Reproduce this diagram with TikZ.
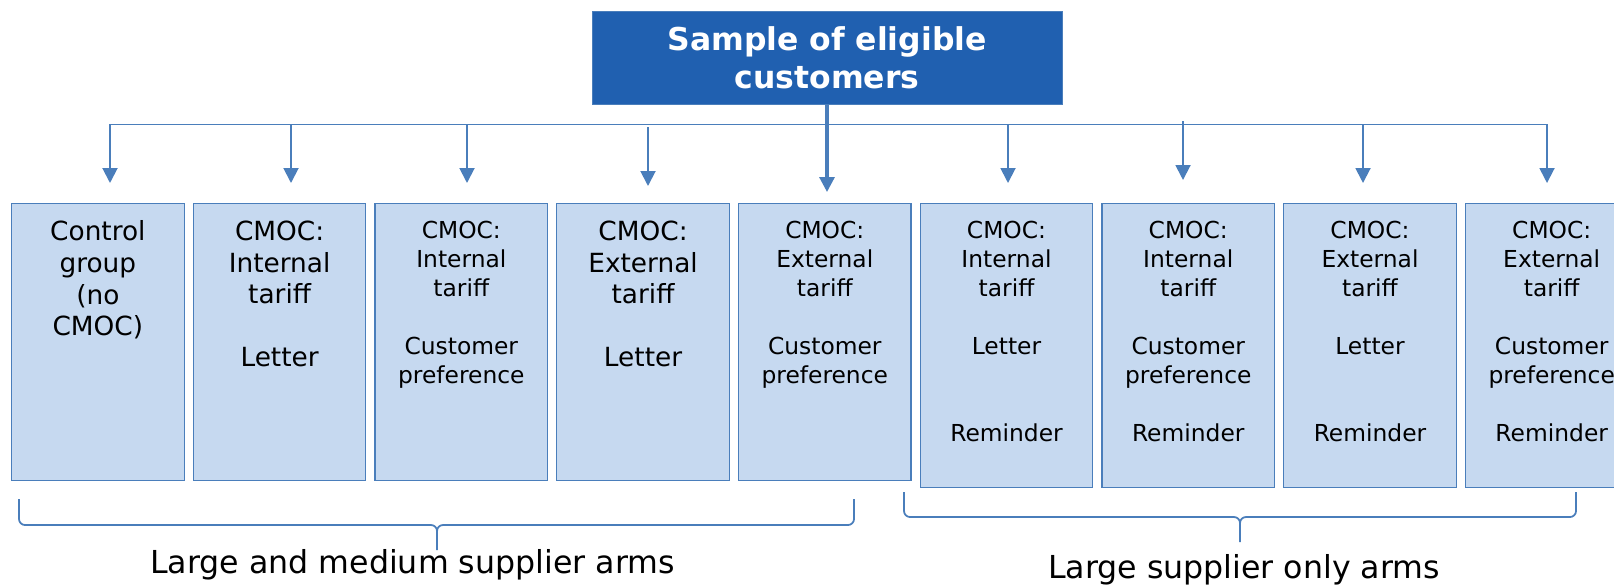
\documentclass[tikz,border=0pt]{standalone}
\usepackage{fontspec}
\setmainfont{DejaVu Sans}
\usetikzlibrary{arrows.meta,positioning}

\definecolor{headblue}{RGB}{32,96,176}
\definecolor{armfill}{RGB}{198,217,240}
\definecolor{armline}{RGB}{74,126,187}

\begin{document}
\begin{tikzpicture}[
    node distance=0.16cm,
    header/.style={draw=armline, fill=headblue, text=white,
      minimum width=9.4cm, minimum height=1.86cm, align=center,
      font=\bfseries\fontsize{17.9}{21.4}\selectfont},
    arm/.style={draw=armline, line width=0.7pt, fill=armfill,
      minimum width=3.45cm, minimum height=5.54cm, inner sep=0pt},
    tallarm/.style={arm, minimum height=5.68cm},
    armtext/.style={anchor=north, inner sep=0pt, yshift=-0.35cm, align=center,
      font=\fontsize{15}{18}\selectfont},
    smalltext/.style={armtext, font=\fontsize{13.3}{16.5}\selectfont},
    arrow/.style={-{Triangle[length=0.3cm,width=0.3cm]}, line width=1.1pt, draw=armline},
    bus/.style={line width=0.75pt, draw=armline},
    armbrace/.style={line width=1pt, draw=armline, rounded corners=0.12cm},
    armlabel/.style={anchor=base, font=\fontsize{18}{21.6}\selectfont}
  ]
  \useasboundingbox (0,0) rectangle (32.28,-11.72);

  \node[header] (sample) at (16.54,-1.15) {Sample of eligible\\customers};

  % trial arms
  \node[arm, anchor=north west] (b1) at (0.22,-4.06) {};
  \node[arm, right=of b1] (b2) {};
  \node[arm, right=of b2] (b3) {};
  \node[arm, right=of b3] (b4) {};
  \node[arm, right=of b4] (b5) {};
  \node[tallarm, anchor=north west] (b6) at ([xshift=0.16cm]b5.north east) {};
  \node[tallarm, right=of b6] (b7) {};
  \node[tallarm, right=of b7] (b8) {};
  \node[tallarm, right=of b8] (b9) {};

  \node[armtext] (t1) at (b1.north) {Control\\group\\(no\\CMOC)};
  \node[armtext] (t2) at (b2.north) {CMOC:\\Internal\\tariff\\~\\Letter};
  \node[smalltext] (t3) at (b3.north) {CMOC:\\Internal\\tariff\\~\\Customer\\preference};
  \node[armtext] (t4) at (b4.north) {CMOC:\\External\\tariff\\~\\Letter};
  \node[smalltext] (t5) at (b5.north) {CMOC:\\External\\tariff\\~\\Customer\\preference};
  \node[smalltext] (t6) at (b6.north) {CMOC:\\Internal\\tariff\\~\\Letter\\~\\~\\Reminder};
  \node[smalltext] (t7) at (b7.north) {CMOC:\\Internal\\tariff\\~\\Customer\\preference\\~\\Reminder};
  \node[smalltext] (t8) at (b8.north) {CMOC:\\External\\tariff\\~\\Letter\\~\\~\\Reminder};
  \node[smalltext] (t9) at (b9.north) {CMOC:\\External\\tariff\\~\\Customer\\preference\\~\\Reminder};

  % distribution bus and arrows
  \foreach \i/\x in {1/2.20, 2/5.82, 3/9.34, 4/12.96, 6/20.16, 7/23.66, 8/27.26, 9/30.94}
    \coordinate (k\i) at (\x,-2.486);
  \draw[bus] (k1) -- (k9);
  \foreach \i/\dy/\gap in {1/0/0.40, 2/0/0.40, 3/0/0.40, 4/-0.054/0.34,
                           6/0/0.40, 7/0.066/0.46, 8/0/0.40, 9/0/0.40}
    \draw[arrow, shorten >=\gap cm] ([yshift=\dy cm]k\i) -- (k\i |- b\i.north);
  \draw[arrow, line width=1.8pt, shorten >=0.22cm] (sample.south) -- (sample.south |- b5.north);

  % braces
  \draw[armbrace] (0.38,-9.98) -- (0.38,-10.5) -- (8.74,-10.5) -- (8.74,-11.0)
                  (17.08,-9.98) -- (17.08,-10.5) -- (8.74,-10.5) -- (8.74,-11.0);
  \draw[armbrace] (18.08,-9.84) -- (18.08,-10.34) -- (24.8,-10.34) -- (24.8,-10.84)
                  (31.52,-9.84) -- (31.52,-10.34) -- (24.8,-10.34) -- (24.8,-10.84);

  \node[armlabel] (lmarms) at (8.25,-11.466) {Large and medium supplier arms};
  \node[armlabel] (larms) at (24.88,-11.566) {Large supplier only arms};
\end{tikzpicture}
\end{document}
